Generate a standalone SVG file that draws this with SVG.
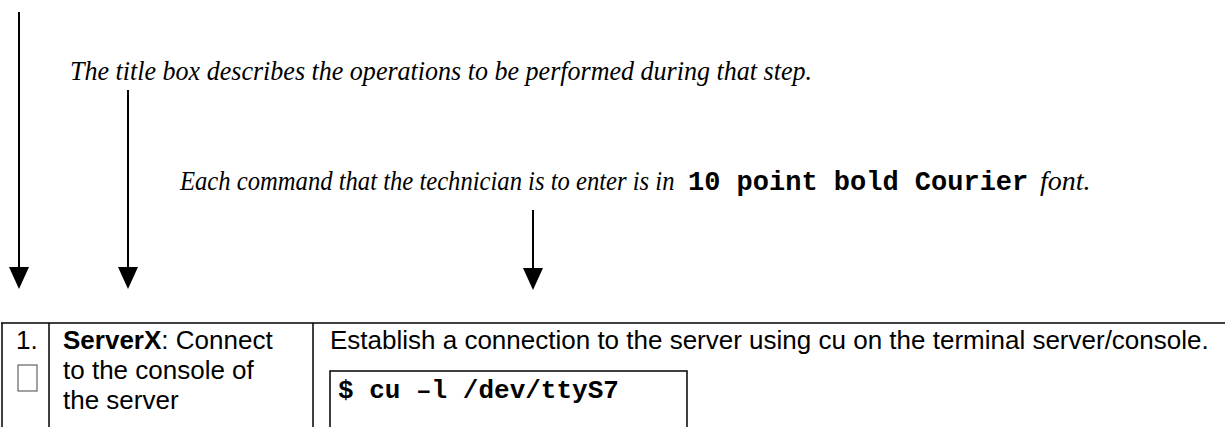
<svg xmlns="http://www.w3.org/2000/svg" width="1225" height="427" viewBox="0 0 1225 427">
<style>
.note{font-family:"Liberation Serif","Times New Roman",serif;font-style:italic;font-size:28px;fill:#000}
.mono{font-family:"Liberation Mono","Courier New",monospace;font-weight:bold;font-style:normal;font-size:27px;fill:#000}
.cmd{font-family:"Liberation Mono","Courier New",monospace;font-weight:bold;font-size:26px;fill:#000}
.cell{font-family:"Liberation Sans",Arial,sans-serif;font-size:26px;fill:#000}
.grid{stroke:#000;stroke-width:1.5;fill:none}
.conn{stroke:#000;stroke-width:2;fill:none}
</style>
<defs>
<marker id="ah" markerUnits="userSpaceOnUse" markerWidth="22" markerHeight="24" refX="0" refY="0" orient="0" viewBox="-11 0 22 24" overflow="visible">
<path d="M-10,0 L10,0 L0,22 Z" fill="#000"/>
</marker>
</defs>
<rect width="1225" height="427" fill="#fff"/>
<g id="note-title">
<text class="note" x="70" y="80" textLength="742" lengthAdjust="spacingAndGlyphs">The title box describes the operations to be performed during that step.</text>
</g>
<g id="note-command">
<text class="note" transform="translate(180,190) scale(0.88,1)" x="0" y="0">Each command that the technician is to enter is in</text>
<text class="mono" x="688" y="190">10 point bold Courier</text>
<text class="note" x="1040" y="190">font.</text>
</g>
<g id="connectors">
<line class="conn" x1="19" y1="12" x2="19" y2="267" marker-end="url(#ah)"/>
<line class="conn" x1="128" y1="90" x2="128" y2="267" marker-end="url(#ah)"/>
<line class="conn" x1="533" y1="210" x2="533" y2="268" marker-end="url(#ah)"/>
</g>
<g id="step-table">
<line class="grid" x1="1" y1="323" x2="1225" y2="323"/>
<line class="grid" x1="2" y1="323" x2="2" y2="427"/>
<line class="grid" x1="49" y1="323" x2="49" y2="427"/>
<line class="grid" x1="313" y1="323" x2="313" y2="427"/>
</g>
<g id="step-number">
<text class="cell" x="16" y="349">1.</text>
<rect x="18" y="365" width="19" height="26" fill="none" stroke="#444" stroke-width="1"/>
</g>
<g id="step-title">
<text class="cell" x="63" y="349"><tspan font-weight="bold">ServerX</tspan>: Connect</text>
<text class="cell" x="63" y="379">to the console of</text>
<text class="cell" x="63" y="409">the server</text>
</g>
<g id="step-body">
<text class="cell" x="330" y="349">Establish a connection to the server using cu on the terminal server/console.</text>
<rect x="330" y="371" width="357" height="60" fill="none" stroke="#000" stroke-width="1.5"/>
<text class="cmd" x="338" y="398">$ cu –l /dev/ttyS7</text>
</g>
</svg>
